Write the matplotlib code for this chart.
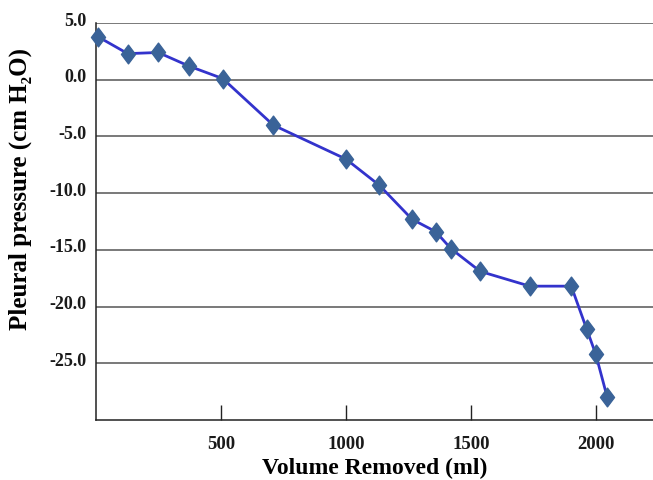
import matplotlib
matplotlib.use("Agg")
import matplotlib.pyplot as plt
from matplotlib.path import Path
import matplotlib.transforms as mtransforms

volume = [7, 127, 249, 372, 507, 709, 1000, 1133, 1264, 1359, 1420, 1537, 1735, 1901, 1963, 1999, 2045]
pressure = [3.8, 2.3, 2.4, 1.2, 0.1, -4.0, -7.0, -9.3, -12.3, -13.4, -14.9, -16.9, -18.2, -18.2, -22.0, -24.2, -28.0]
x_ticks = [500, 1000, 1500, 2000]
y_ticks = [5.0, 0.0, -5.0, -10.0, -15.0, -20.0, -25.0]
x_label = "Volume Removed (ml)"
y_label = "Pleural pressure (cm H\u2082O)"

plt.rcParams['font.family'] = ['Liberation Serif', 'DejaVu Serif']

fig = plt.figure(figsize=(6.53, 4.81), dpi=100)
ax = fig.add_axes([96/653, 60/481, 1 - 96/653, (421-24)/481])

diamond = Path([(0, 1), (0.75, 0), (0, -1), (-0.75, 0), (0, 1)],
               [Path.MOVETO, Path.LINETO, Path.LINETO, Path.LINETO, Path.CLOSEPOLY])

ax.plot(volume, pressure, color='#3333cc', lw=2.0, zorder=3, clip_on=False)
ax.plot(volume, pressure, ls='none', marker=diamond, ms=13.5, mfc='#3a6398', mec='#3a6398',
        zorder=4, clip_on=False)

ax.set_xlim(0, 2228)
ax.set_ylim(-30, 5)
ax.set_xticks(x_ticks)
ax.set_xticklabels([str(v) for v in x_ticks], fontsize=13.5, fontweight='bold', color='#1a1a1a')
ax.set_yticks(y_ticks)
ax.set_yticklabels([f"{v:.1f}" for v in y_ticks], fontsize=13, fontweight='bold', color='#1a1a1a')
ax.tick_params(axis='x', direction='in', length=11, width=1, pad=11, color='#222222')
ax.tick_params(axis='y', length=0, pad=7)
off = mtransforms.ScaledTranslation(0, 5/100, fig.dpi_scale_trans)
for lab in ax.get_yticklabels():
    lab.set_transform(lab.get_transform() + off)

ax.yaxis.grid(True, color='#555555', lw=1.1)
ax.set_axisbelow(True)
for s in ['top', 'right']:
    ax.spines[s].set_visible(False)
for s in ['left', 'bottom']:
    ax.spines[s].set_color('#222222')
    ax.spines[s].set_linewidth(1.1)

ax.set_xlabel(x_label, fontsize=17, fontweight='bold', labelpad=3)
ax.set_ylabel(y_label, fontsize=18, fontweight='bold')
ax.yaxis.set_label_coords(-64/557, 0.585)

fig.savefig("out.png", dpi=100)
